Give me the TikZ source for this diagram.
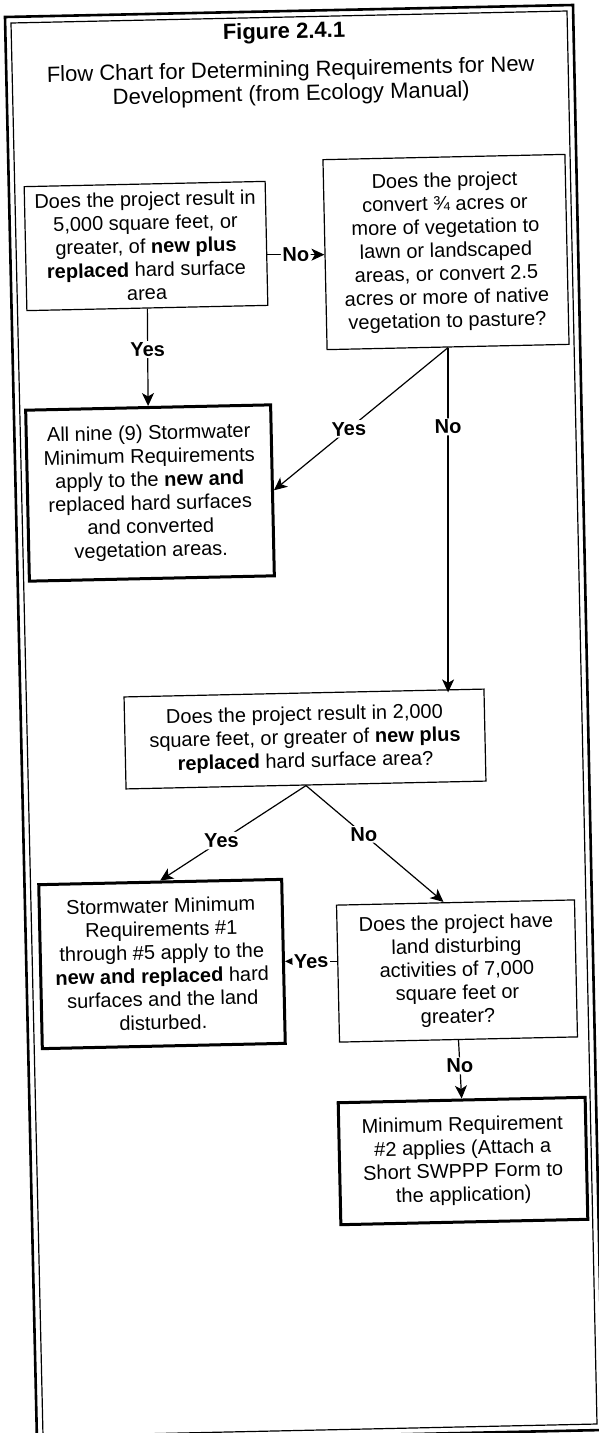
\documentclass[tikz,border=0pt]{standalone}
\usepackage{fontspec}
\setmainfont{Liberation Sans}
\usetikzlibrary{arrows.meta}
\begin{document}
\begin{tikzpicture}[x=1pt,y=-1pt,
  every node/.style={rotate=1.25},
  qbox/.style={draw, line width=1.2pt, align=center, inner sep=0pt,
    font=\fontsize{20}{23.4}\selectfont},
  rbox/.style={qbox, line width=3pt},
  lab/.style={fill=white, inner sep=1.5pt, font=\fontsize{20}{23}\selectfont\bfseries},
  arr/.style={line width=1.2pt, -{Stealth[length=13pt,width=12pt,inset=3.5pt]}},
  ttl/.style={inner sep=0pt, align=center, font=\fontsize{22}{24}\selectfont}]
\useasboundingbox (0,0) rectangle (599,1433);
\clip (0,0) rectangle (599,1433);
% frame
\coordinate (o1) at (5,17);   \coordinate (o2) at (573,5);
\coordinate (o3) at (603,1430); \coordinate (o4) at (37,1442);
\coordinate (i1) at (11,23);  \coordinate (i2) at (567,11);
\coordinate (i3) at (597,1424); \coordinate (i4) at (43,1436);
\draw[line width=2.6pt] (o1) -- (o2) -- (o3) -- (o4) -- cycle;
\draw[line width=1.2pt] (i1) -- (i2) -- (i3) -- (i4) -- cycle;
% title
\node[ttl, font=\fontsize{22}{24}\selectfont\bfseries] (t1) at (284,33) {Figure 2.4.1};
\node[ttl] (t2) at (291,83) {Flow Chart for Determining Requirements for New\\Development (from Ecology Manual)};
% boxes
\node[qbox, minimum width=241pt, minimum height=124pt] (A) at (146,246)
  {Does the project result in\\5,000 square feet, or\\greater, of \textbf{new plus}\\\textbf{replaced} hard surface\\area};
\node[qbox, minimum width=242pt, minimum height=190pt] (B) at (446,252)
  {Does the project\\convert ¾ acres or\\more of vegetation to\\lawn or landscaped\\areas, or convert 2.5\\acres or more of native\\vegetation to pasture?};
\node[rbox, minimum width=245pt, minimum height=171pt] (C) at (150,493)
  {All nine (9) Stormwater\\Minimum Requirements\\apply to the \textbf{new and}\\replaced hard surfaces\\and converted\\vegetation areas.};
\node[qbox, minimum width=360pt, minimum height=92pt] (D) at (305,739)
  {Does the project result in 2,000\\square feet, or greater of \textbf{new plus}\\\textbf{replaced} hard surface area?};
\node[rbox, minimum width=243pt, minimum height=164pt] (E) at (162,964)
  {Stormwater Minimum\\Requirements \#1\\through \#5 apply to the\\\textbf{new and replaced} hard\\surfaces and the land\\disturbed.};
\node[qbox, minimum width=238pt, minimum height=137pt] (F) at (457,971)
  {Does the project have\\land disturbing\\activities of 7,000\\square feet or\\greater?};
\node[rbox, minimum width=247pt, minimum height=122pt] (G) at (463,1161)
  {Minimum Requirement\\\#2 applies (Attach a\\Short SWPPP Form to\\the application)};
% connectors
\draw[arr] (A.east |- B.west) -- (B.west) node[midway, lab] (l1) {No};
\draw[arr] (A.south) -- (C.north) node[pos=0.42, lab] (l2) {Yes};
\draw[arr] (B.south) -- (C.east) node[pos=0.57, lab] (l3) {Yes};
\draw[arr] (B.south) -- (B.south |- D.north) node[pos=0.23, lab] (l4) {No};
\draw[arr] (D.south) -- (E.north) node[pos=0.58, lab] (l5) {Yes};
\draw[arr] (D.south) -- ([xshift=-12pt]F.north) node[pos=0.42, lab] (l6) {No};
\draw[arr] (F.west |- E.east) -- (E.east) node[midway, lab] (l7) {Yes};
\draw[arr] (F.south) -- (G.north) node[pos=0.44, lab] (l8) {No};
\end{tikzpicture}
\end{document}
